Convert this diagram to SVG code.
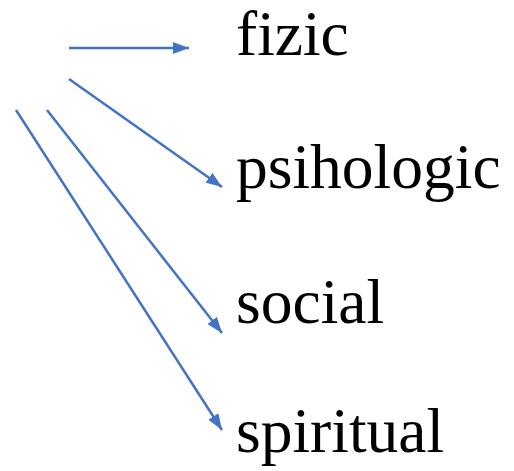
<svg xmlns="http://www.w3.org/2000/svg" width="514" height="471" viewBox="0 0 514 471">
<style>
.lbl{font-family:"Liberation Serif","Times New Roman",serif;font-size:63.5px;fill:#000}
.c{stroke:#4472C4;stroke-width:2.5;fill:none}
</style>
<defs>
<marker id="ah" viewBox="0 0 10 10" refX="10" refY="5" markerWidth="6.4" markerHeight="4.8" markerUnits="strokeWidth" orient="auto" preserveAspectRatio="none">
<path d="M0,0 L10,5 L0,10 Z" fill="#4472C4"/>
</marker>
</defs>
<rect width="514" height="471" fill="#fff"/>
<g id="connectors">
<line class="c" x1="69" y1="48" x2="189" y2="48" marker-end="url(#ah)"/>
<line class="c" x1="69" y1="79" x2="222" y2="187" marker-end="url(#ah)"/>
<line class="c" x1="47" y1="110" x2="222" y2="333" marker-end="url(#ah)"/>
<line class="c" x1="16" y1="110" x2="222" y2="430" marker-end="url(#ah)"/>
</g>
<g id="fizic"><text class="lbl" x="236" y="55">fizic</text></g>
<g id="psihologic"><text class="lbl" x="236" y="188">psihologic</text></g>
<g id="social"><text class="lbl" x="236" y="323">social</text></g>
<g id="spiritual"><text class="lbl" x="236" y="452">spiritual</text></g>
</svg>
